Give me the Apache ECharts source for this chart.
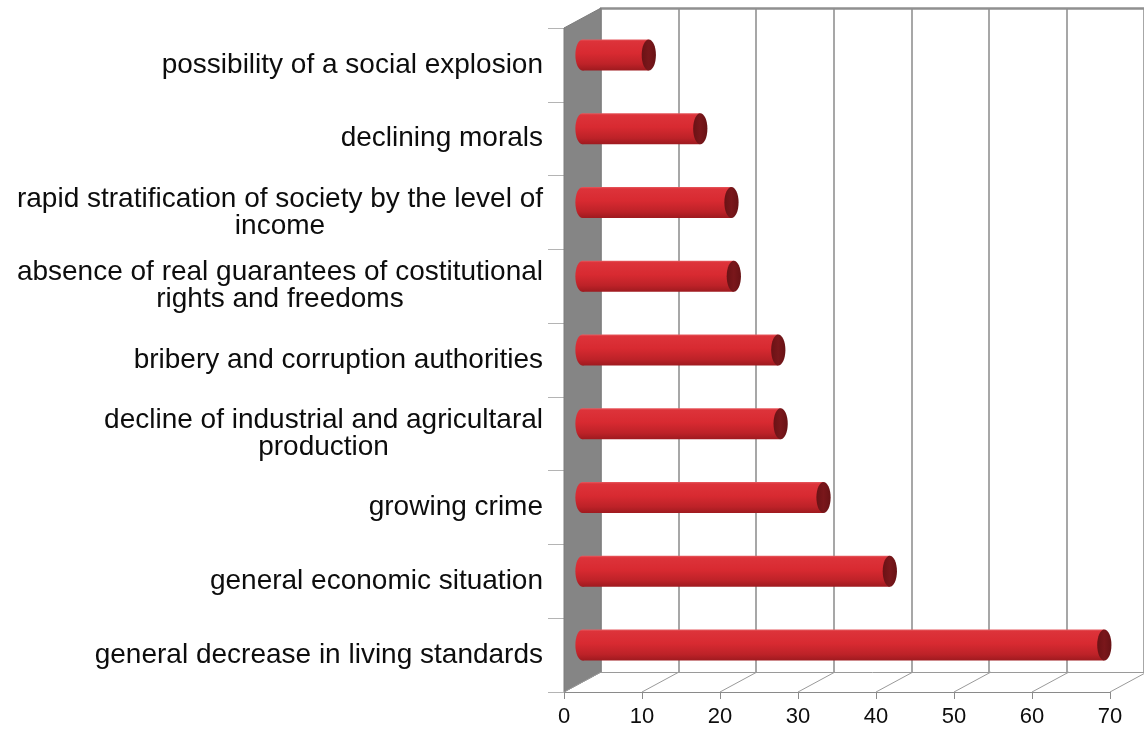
<!DOCTYPE html>
<html>
<head>
<meta charset="utf-8">
<script src="https://cdn.jsdelivr.net/npm/echarts@6/dist/echarts.min.js"></script>
<style>
  html, body { margin: 0; padding: 0; background: #ffffff; }
  #chart { width: 1144px; height: 731px; }
</style>
</head>
<body>
<div id="chart"></div>
<script>
// Problems named by respondents (share of answers, %)
const categories = [
  'possibility of a social explosion',
  'declining morals',
  'rapid stratification of society by the level of\nincome',
  'absence of real guarantees of costitutional\nrights and freedoms',
  'bribery and corruption authorities',
  'decline of industrial and agricultaral\nproduction',
  'growing crime',
  'general economic situation',
  'general decrease in living standards'
];
const values = [8.5, 15.1, 19.1, 19.4, 25.1, 25.4, 30.9, 39.4, 66.9];
const xTicks = [0, 10, 20, 30, 40, 50, 60, 70];

// Depth of the pseudo-3D box in pixels: the back plane sits right of and above the front plane
const DEPTH_X = 37;
const DEPTH_Y = -20;

const FONT = 'Liberation Sans, Arial, sans-serif';
const FRAME = '#8a8a8a';
const TEXT = '#0d0d0d';

const chart = echarts.init(document.getElementById('chart'), null, { renderer: 'canvas' });

const option = {
  backgroundColor: '#ffffff',
  animation: false,
  grid: [
    // front plane (axes, labels, floor edge)
    { left: 564, top: 28, width: 546, height: 664 },
    // back plane (gridlines, top edge, back floor edge)
    { left: 564 + DEPTH_X, top: 28 + DEPTH_Y, width: 546, height: 664 }
  ],
  xAxis: [
    {
      gridIndex: 0, type: 'value', min: 0, max: 70, interval: 10,
      axisLine: { show: true, lineStyle: { color: FRAME, width: 1 } },
      axisTick: { show: true, length: 7, lineStyle: { color: FRAME } },
      axisLabel: { margin: 14, fontSize: 22, fontFamily: FONT, color: TEXT },
      splitLine: { show: false }
    },
    {
      gridIndex: 1, type: 'value', min: 0, max: 70, interval: 10, position: 'bottom',
      axisLine: { show: true, lineStyle: { color: '#9a9a9a', width: 1 } },
      axisTick: { show: false }, axisLabel: { show: false },
      splitLine: { show: true, lineStyle: { color: FRAME, width: 1.5 } }
    },
    {
      gridIndex: 1, type: 'value', min: 0, max: 70, interval: 10, position: 'top',
      axisLine: { show: true, lineStyle: { color: '#909090', width: 2.5 } },
      axisTick: { show: false }, axisLabel: { show: false },
      splitLine: { show: false }
    }
  ],
  yAxis: [
    {
      gridIndex: 0, type: 'category', inverse: true, data: categories,
      axisLine: { show: true, lineStyle: { color: FRAME } },
      axisTick: { show: true, length: 16, lineStyle: { color: '#b4b4b4' } },
      axisLabel: {
        margin: 21,
        fontSize: 28, fontFamily: FONT, color: TEXT, lineHeight: 27,
        formatter: (v) => v.split('\n').map((l) => '{c|' + l + '}').join('\n'),
        rich: { c: { align: 'center', fontSize: 28, fontFamily: FONT, color: TEXT, lineHeight: 27 } }
      },
      splitLine: { show: false }
    },
    { gridIndex: 1, type: 'value', min: 0, max: 1, show: false }
  ],
  series: [
    {
      // left wall and floor diagonals of the box
      type: 'custom', xAxisIndex: 0, yAxisIndex: 0, z: 2, silent: true,
      data: xTicks.map((t) => [t, 0]),
      encode: { x: 0, y: 1 },
      renderItem: function (params, api) {
        const cs = params.coordSys;
        const bottom = cs.y + cs.height;
        const top = cs.y;
        const x = api.coord([api.value(0), 0])[0];
        const children = [];
        if (params.dataIndex === 0) {
          children.push({
            type: 'polygon',
            shape: { points: [[x, top], [x + DEPTH_X, top + DEPTH_Y], [x + DEPTH_X, bottom + DEPTH_Y], [x, bottom]] },
            style: { fill: '#858585', stroke: '#7c7c7c', lineWidth: 1 }
          });
        }
        children.push({
          type: 'line',
          shape: { x1: x, y1: bottom, x2: x + DEPTH_X, y2: bottom + DEPTH_Y },
          style: { stroke: '#9a9a9a', lineWidth: 1 }
        });
        return { type: 'group', children: children };
      }
    },
    {
      // cylinders, placed at mid-depth of the box
      type: 'custom', xAxisIndex: 0, yAxisIndex: 0, z: 5,
      data: values.map((v, i) => [v, i]),
      encode: { x: 0, y: 1 },
      renderItem: function (params, api) {
        const v = api.value(0);
        const idx = api.value(1);
        const s = api.coord([0, idx]);
        const e = api.coord([v, idx]);
        const band = api.size([0, 1])[1];
        const h = band * 0.42;
        const ox = DEPTH_X / 2;
        const oy = DEPTH_Y / 2;
        const x0 = s[0] + ox;
        const x1 = e[0] + ox;
        const cy = s[1] + oy;
        const rx = h * 0.23;
        const ry = h / 2;
        const bodyFill = new echarts.graphic.LinearGradient(0, 0, 0, 1, [
          { offset: 0, color: '#e65a5f' },
          { offset: 0.06, color: '#dd333a' },
          { offset: 0.45, color: '#d82a31' },
          { offset: 0.8, color: '#bd2228' },
          { offset: 1, color: '#9e1a1f' }
        ]);
        const capFill = new echarts.graphic.LinearGradient(0, 0, 1, 0, [
          { offset: 0, color: '#6a1215' },
          { offset: 0.5, color: '#7a171b' },
          { offset: 1, color: '#681215' }
        ]);
        return {
          type: 'group',
          children: [
            { type: 'ellipse', shape: { cx: x0, cy: cy, rx: rx, ry: ry }, style: { fill: bodyFill } },
            { type: 'rect', shape: { x: x0, y: cy - ry, width: Math.max(0, x1 - x0), height: h }, style: { fill: bodyFill } },
            { type: 'ellipse', shape: { cx: x1, cy: cy, rx: rx, ry: ry }, style: { fill: capFill } }
          ]
        };
      }
    }
  ]
};

chart.setOption(option);
</script>
</body>
</html>
